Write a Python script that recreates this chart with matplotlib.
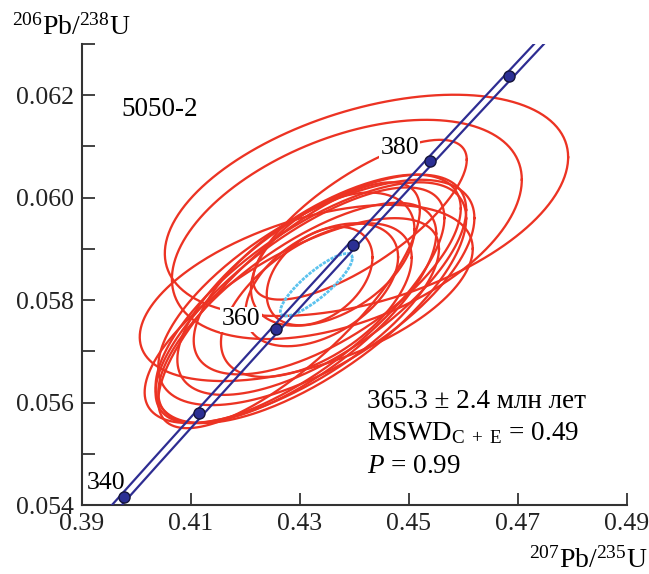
import numpy as np
import matplotlib
matplotlib.use('Agg')
import matplotlib.pyplot as plt

plt.rcParams['font.family'] = ['Liberation Serif', 'DejaVu Serif']
plt.rcParams['mathtext.fontset'] = 'custom'
plt.rcParams['mathtext.rm'] = 'Liberation Serif'
plt.rcParams['mathtext.it'] = 'Liberation Serif:italic'

# decay constants (1/yr)
LAMBDA_238 = 1.55125e-10
LAMBDA_235 = 9.8485e-10
BAND_DX = 0.0009  # half width of the decay-constant error band in 207/235

# concordia age marks (Ma) and labelled ones
mark_ages = [340, 350, 360, 370, 380, 390]
label_ages = [340, 360, 380]

# analyses: 207Pb/235U, 206Pb/238U, half-extents (x, y) and error correlation
ell_x   = [0.4422, 0.4386, 0.43115, 0.4410,
           0.4320, 0.4300, 0.4340, 0.4295, 0.4330, 0.4280, 0.4350, 0.4285,
           0.4336, 0.4340, 0.4330, 0.4360]
ell_y   = [0.05985, 0.05938, 0.05814, 0.05957,
           0.05795, 0.05790, 0.05830, 0.05775, 0.05815, 0.05790, 0.05850, 0.05760,
           0.05847, 0.05830, 0.05800, 0.05880]
ell_sx  = [0.0370, 0.0321, 0.03055, 0.0196,
           0.0285, 0.0265, 0.0265, 0.0255, 0.0290, 0.0240, 0.0245, 0.0270,
           0.0097, 0.0140, 0.0175, 0.0150]
ell_sy  = [0.00216, 0.00214, 0.00172, 0.00156,
           0.00235, 0.00230, 0.00215, 0.00215, 0.00220, 0.00240, 0.00195, 0.00200,
           0.00096, 0.00120, 0.00150, 0.00130]
ell_rho = [0.435, 0.453, 0.50, 0.75,
           0.70, 0.74, 0.68, 0.72, 0.66, 0.78, 0.66, 0.70,
           0.38, 0.45, 0.55, 0.45]

# concordia age ellipse
age_x, age_y = 0.4330, 0.05830
age_sx, age_sy, age_rho = 0.0066, 0.00061, 0.85

# text offsets of the age labels (points) and whether they mask the ellipses
label_offsets = {340: (-13, 10), 360: (-25, 7), 380: (-22, 9)}
label_masked = {340: False, 360: True, 380: True}


def ellipse_pts(cx, cy, sx, sy, rho, n=300):
    t = np.linspace(0, 2 * np.pi, n)
    x = cx + sx * np.cos(t)
    y = cy + sy * (rho * np.cos(t) + np.sqrt(1 - rho ** 2) * np.sin(t))
    return x, y


def concordia(t_ma):
    t = np.asarray(t_ma) * 1e6
    return np.exp(LAMBDA_235 * t) - 1, np.exp(LAMBDA_238 * t) - 1


fig = plt.figure(figsize=(6.49, 5.74), dpi=100)
ax = fig.add_axes([0.1263, 0.1202, 0.8398, 0.8031])

red = '#ec3323'
navy = '#2e2d92'

for cx, cy, sx, sy, r in zip(ell_x, ell_y, ell_sx, ell_sy, ell_rho):
    x, y = ellipse_pts(cx, cy, sx, sy, r)
    ax.plot(x, y, color=red, lw=1.65, zorder=2)

bx, by = ellipse_pts(age_x, age_y, age_sx, age_sy, age_rho)
ax.plot(bx, by, color='#5cc3ee', lw=2.0, ls=(0, (1.2, 0.4)), zorder=3)

tt = np.linspace(320, 410, 200)
cxs, cys = concordia(tt)
ax.plot(cxs - BAND_DX, cys, color=navy, lw=1.6, zorder=4)
ax.plot(cxs + BAND_DX, cys, color=navy, lw=1.6, zorder=4)

mx, my = concordia(mark_ages)
ax.plot(mx, my, 'o', ms=8, mfc='#2b2f94', mec='#15153a', mew=1.0, zorder=5)

for age in label_ages:
    px, py = concordia(age)
    box = dict(boxstyle='square,pad=0.05', fc='white', ec='none') if label_masked[age] else None
    ax.annotate(str(age), (px, py), xytext=label_offsets[age], textcoords='offset points',
                ha='center', va='center', fontsize=18.5, zorder=6, bbox=box)

ax.set_xlim(0.39, 0.49)
ax.set_ylim(0.054, 0.063)
ax.set_xticks([0.39, 0.41, 0.43, 0.45, 0.47, 0.49])
ax.set_xticklabels(['0.39', '0.41', '0.43', '0.45', '0.47', '0.49'])
ax.set_yticks([0.054, 0.056, 0.058, 0.060, 0.062])
ax.set_yticklabels(['0.054', '0.056', '0.058', '0.060', '0.062'])
ax.set_yticks([0.055, 0.057, 0.059, 0.061, 0.063], minor=True)
ax.tick_params(direction='in', length=9, width=1.2, labelsize=18.5, colors='#222222', pad=6)
ax.tick_params(which='minor', direction='in', length=9, width=1.2, colors='#222222')
for s in ['top', 'right']:
    ax.spines[s].set_visible(False)
for s in ['left', 'bottom']:
    ax.spines[s].set_linewidth(1.5)
    ax.spines[s].set_color('#333333')

fig.text(0.018, 0.953, r'$^{206}$Pb/$^{238}$U', fontsize=20, va='center', ha='left')
fig.text(0.997, 0.024, r'$^{207}$Pb/$^{235}$U', fontsize=20, va='center', ha='right')

ax.text(0.073, 0.859, '5050-2', transform=ax.transAxes, fontsize=19.5, va='center')
ax.text(0.523, 0.2256, '365.3 ± 2.4 млн лет', transform=ax.transAxes, fontsize=19.5,
        va='center')
ax.text(0.523, 0.156, r'MSWD$_{\mathrm{C\ +\ E}}$ = 0.49', transform=ax.transAxes,
        fontsize=19.5, va='center')
ax.text(0.523, 0.0846, r'$P$ = 0.99', transform=ax.transAxes, fontsize=19.5, va='center')

fig.savefig('out.png', dpi=100)
